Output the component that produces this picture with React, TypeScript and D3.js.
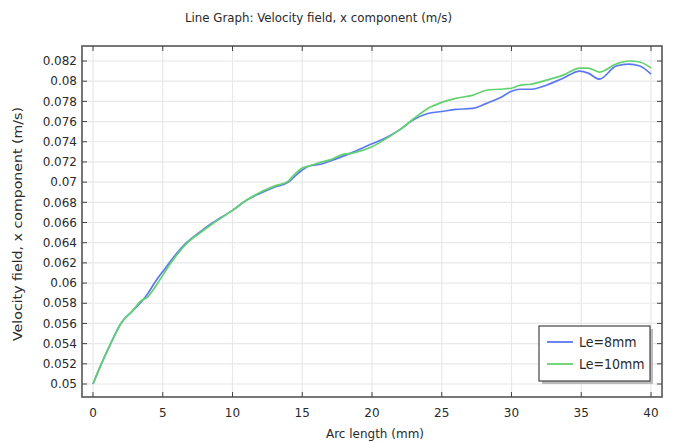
import React from "react";
import * as d3 from "d3";

const arcLength = [0, 0.6, 1.3, 2, 2.8, 3.5, 3.9, 4.5, 5.2, 5.8, 6.7, 7.7, 8.6, 10, 11, 12, 13, 14, 14.4, 15, 15.5, 16.4, 17, 17.8, 18.7, 20, 21, 22, 23, 24, 25, 26, 27.2, 28.2, 29.1, 30, 30.6, 31.4, 32.5, 33.7, 34.9, 35.5, 36.3, 37.5, 38.4, 39.2, 40];

const le8mm = [0.05, 0.052, 0.0541, 0.056, 0.0572, 0.0582, 0.0589, 0.0602, 0.0615, 0.0626, 0.064, 0.0651, 0.066, 0.0672, 0.0682, 0.0689, 0.0695, 0.07, 0.0705, 0.0712, 0.0716, 0.0718, 0.0721, 0.0725, 0.073, 0.0738, 0.0744, 0.0752, 0.0762, 0.0768, 0.077, 0.0772, 0.0773, 0.0778, 0.0783, 0.079, 0.0792, 0.0792, 0.0796, 0.0803, 0.081, 0.0808, 0.0802, 0.0815, 0.0817, 0.0815, 0.0807];

const le10mm = [0.05, 0.052, 0.0541, 0.056, 0.0572, 0.0583, 0.0586, 0.0597, 0.0612, 0.0624, 0.0639, 0.065, 0.0659, 0.0672, 0.0682, 0.069, 0.0696, 0.0701, 0.0707, 0.0714, 0.0716, 0.072, 0.0722, 0.0727, 0.0729, 0.0735, 0.0743, 0.0752, 0.0763, 0.0773, 0.0779, 0.0783, 0.0786, 0.0791, 0.0792, 0.0793, 0.0796, 0.0797, 0.0801, 0.0806, 0.0813, 0.0813, 0.0809, 0.0817, 0.082, 0.0819, 0.0813];

const xTicks = [0, 5, 10, 15, 20, 25, 30, 35, 40];
const yTicks = [0.05, 0.052, 0.054, 0.056, 0.058, 0.06, 0.062, 0.064, 0.066, 0.068, 0.07, 0.072, 0.074, 0.076, 0.078, 0.08, 0.082];
const yTickLabels = ["0.05", "0.052", "0.054", "0.056", "0.058", "0.06", "0.062", "0.064", "0.066", "0.068", "0.07", "0.072", "0.074", "0.076", "0.078", "0.08", "0.082"];

const seriesNames = ["Le=8mm", "Le=10mm"];
const seriesColors = ["#5b78f2", "#62d26e"];

const title = "Line Graph: Velocity field, x component (m/s)";
const xLabel = "Arc length (mm)";
const yLabel = "Velocity field, x component (m/s)";

export default function App() {
  const W = 673, H = 443;
  const frame = { left: 82, right: 662, top: 46, bottom: 397 };
  const x = d3.scaleLinear().domain([0, 40]).range([93, 651]);
  const y = d3.scaleLinear().domain([0.05, 0.082]).range([384, 61]);
  const font = "'DejaVu Sans', sans-serif";
  const condensed = "'DejaVu Sans Condensed', 'DejaVu Sans', sans-serif";

  const series = [le8mm, le10mm];
  const line = d3
    .line<number>()
    .x((_, i) => x(arcLength[i]))
    .y((d) => y(d))
    .curve(d3.curveMonotoneX);

  const tickLen = 5;
  const legend = { x: 539, y: 326, w: 111, h: 55 };

  return (
    <svg width={W} height={H} style={{ position: "absolute", left: 0, top: 0, background: "#fff" }}>
      <rect x={0} y={0} width={W} height={H} fill="#fff" />
      <text x={318.5} y={22} textAnchor="middle" fontFamily={condensed} fontStretch="condensed" fontSize={13} fill="#2a2a2a" textLength={267} lengthAdjust="spacingAndGlyphs">
        {title}
      </text>
      {/* grid */}
      {xTicks.map((t) => (
        <line key={"gx" + t} x1={x(t)} x2={x(t)} y1={frame.top} y2={frame.bottom} stroke="#e8e8e8" strokeWidth={1.2} />
      ))}
      {yTicks.map((t) => (
        <line key={"gy" + t} x1={frame.left} x2={frame.right} y1={y(t)} y2={y(t)} stroke="#e8e8e8" strokeWidth={1.2} />
      ))}
      {/* lines */}
      {series.map((s, i) => (
        <path key={"s" + i} d={line(s) || ""} fill="none" stroke={seriesColors[i]} strokeWidth={1.7} strokeLinejoin="round" />
      ))}
      {/* frame */}
      <rect x={frame.left} y={frame.top} width={frame.right - frame.left} height={frame.bottom - frame.top} fill="none" stroke="#555" strokeWidth={1.6} />
      {/* ticks */}
      {xTicks.map((t) => (
        <g key={"tx" + t}>
          <line x1={x(t)} x2={x(t)} y1={frame.bottom} y2={frame.bottom - tickLen} stroke="#444" strokeWidth={1} />
          <line x1={x(t)} x2={x(t)} y1={frame.top} y2={frame.top + tickLen} stroke="#444" strokeWidth={1} />
          <text x={x(t)} y={417} textAnchor="middle" fontFamily={font} fontSize={12} fill="#2a2a2a">
            {t}
          </text>
        </g>
      ))}
      {yTicks.map((t, i) => (
        <g key={"ty" + t}>
          <line x1={frame.left} x2={frame.left + tickLen} y1={y(t)} y2={y(t)} stroke="#444" strokeWidth={1} />
          <line x1={frame.right} x2={frame.right - tickLen} y1={y(t)} y2={y(t)} stroke="#444" strokeWidth={1} />
          <text x={77} y={y(t)} dy="0.35em" textAnchor="end" fontFamily={font} fontSize={12} fill="#2a2a2a">
            {yTickLabels[i]}
          </text>
        </g>
      ))}
      {/* axis labels */}
      <text x={375} y={438} textAnchor="middle" fontFamily={condensed} fontStretch="condensed" fontSize={13} fill="#2a2a2a" textLength={98} lengthAdjust="spacingAndGlyphs">
        {xLabel}
      </text>
      <text transform={`translate(22, 224) rotate(-90)`} textAnchor="middle" fontFamily={font} fontSize={12.5} fill="#2a2a2a" textLength={234} lengthAdjust="spacingAndGlyphs">
        {yLabel}
      </text>
      {/* legend */}
      <rect x={legend.x + 3} y={legend.y + 3} width={legend.w} height={legend.h} fill="#bbb" />
      <rect x={legend.x} y={legend.y} width={legend.w} height={legend.h} fill="#fff" stroke="#444" strokeWidth={1.2} />
      {seriesNames.map((n, i) => (
        <g key={"l" + n}>
          <line x1={547} x2={573} y1={342 + i * 22} y2={342 + i * 22} stroke={seriesColors[i]} strokeWidth={1.8} />
          <text x={579} y={342 + i * 22} dy="0.35em" fontFamily={condensed} fontStretch="condensed" fontSize={14} fill="#2a2a2a">
            {n}
          </text>
        </g>
      ))}
    </svg>
  );
}
